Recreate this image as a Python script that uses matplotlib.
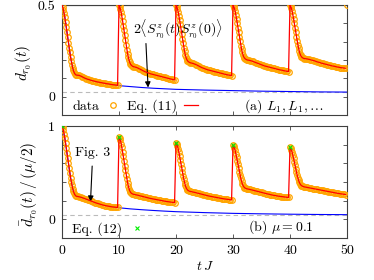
import numpy as np
import matplotlib
matplotlib.use("Agg")
import matplotlib.pyplot as plt
from matplotlib.lines import Line2D

plt.rcParams['font.family'] = 'serif'
plt.rcParams['font.serif'] = ['cmr10']
plt.rcParams['mathtext.fontset'] = 'cm'
plt.rcParams['axes.formatter.use_mathtext'] = True

# ---------------- data ----------------
period_starts = [0, 10, 20, 30, 40]
offsets_fast = [0.0, 0.125, 0.25, 0.375, 0.5, 0.625, 0.75, 0.875, 1.0, 1.125, 1.25, 1.375, 1.5,
                1.625, 1.75, 1.875, 2.0, 2.125, 2.25, 2.375, 2.5]
offsets_slow = [2.75, 3.0, 3.25, 3.5, 3.75, 4.0, 4.25, 4.5, 4.75, 5.0, 5.25, 5.5, 5.75, 6.0, 6.25,
                6.5, 6.75, 7.0, 7.25, 7.5, 7.75, 8.0, 8.25, 8.5, 8.75, 9.0, 9.25, 9.5, 9.75]

# panel (a): d_{r0}(t), one list per driving period
d1 = [0.500, 0.490, 0.475, 0.455, 0.432, 0.407, 0.380, 0.352, 0.323, 0.295, 0.268, 0.242, 0.217,
      0.194, 0.174, 0.157, 0.143, 0.132, 0.125, 0.120, 0.118,
      0.117, 0.116, 0.113, 0.109, 0.105, 0.101, 0.098, 0.095, 0.093, 0.090, 0.088, 0.086, 0.084, 0.082,
      0.080, 0.079, 0.077, 0.076, 0.074, 0.073, 0.071, 0.070, 0.069, 0.067, 0.066, 0.065, 0.064, 0.063, 0.062]
d2 = [0.500, 0.492, 0.478, 0.460, 0.438, 0.414, 0.388, 0.361, 0.334, 0.307, 0.281, 0.257, 0.235,
      0.216, 0.200, 0.188, 0.179, 0.173, 0.169, 0.166, 0.164,
      0.162, 0.160, 0.157, 0.153, 0.149, 0.145, 0.141, 0.137, 0.134, 0.131, 0.128, 0.125, 0.123, 0.121,
      0.119, 0.117, 0.115, 0.113, 0.111, 0.109, 0.107, 0.105, 0.103, 0.101, 0.099, 0.097, 0.095, 0.093, 0.092]
d3 = [0.500, 0.493, 0.480, 0.463, 0.442, 0.419, 0.394, 0.368, 0.342, 0.316, 0.291, 0.268, 0.247,
      0.229, 0.215, 0.204, 0.197, 0.192, 0.189, 0.187, 0.185,
      0.183, 0.181, 0.178, 0.175, 0.171, 0.167, 0.163, 0.159, 0.156, 0.153, 0.150, 0.147, 0.145, 0.143,
      0.141, 0.139, 0.137, 0.135, 0.133, 0.131, 0.129, 0.127, 0.125, 0.123, 0.121, 0.119, 0.118, 0.116, 0.115]
d4 = [0.500, 0.494, 0.482, 0.466, 0.446, 0.424, 0.400, 0.375, 0.350, 0.325, 0.301, 0.279, 0.259,
      0.242, 0.228, 0.218, 0.211, 0.207, 0.204, 0.202, 0.200,
      0.199, 0.197, 0.195, 0.192, 0.189, 0.186, 0.183, 0.180, 0.177, 0.174, 0.171, 0.168, 0.166, 0.164,
      0.162, 0.160, 0.158, 0.156, 0.154, 0.152, 0.150, 0.148, 0.146, 0.145, 0.143, 0.141, 0.140, 0.138, 0.137]
d5 = [0.500, 0.494, 0.482, 0.466, 0.447, 0.425, 0.401, 0.377, 0.352, 0.328, 0.305, 0.284, 0.265,
      0.248, 0.235, 0.225, 0.218, 0.214, 0.211, 0.209, 0.208,
      0.207, 0.206, 0.204, 0.202, 0.200, 0.198, 0.196, 0.193, 0.190, 0.188, 0.186, 0.183, 0.181, 0.179,
      0.177, 0.175, 0.173, 0.171, 0.169, 0.167, 0.166, 0.164, 0.162, 0.161, 0.159, 0.158, 0.157, 0.156, 0.155]
d_final_t = 50
d_final_val = 0.5

# panel (b): dbar_{r0}(t)/(mu/2)
b1 = [1.000, 0.985, 0.955, 0.915, 0.868, 0.818, 0.765, 0.710, 0.655, 0.600, 0.547, 0.495, 0.447,
      0.403, 0.364, 0.330, 0.302, 0.280, 0.264, 0.254, 0.248,
      0.245, 0.242, 0.238, 0.233, 0.228, 0.222, 0.216, 0.210, 0.204, 0.198, 0.192, 0.186, 0.180, 0.175,
      0.170, 0.165, 0.160, 0.156, 0.152, 0.148, 0.145, 0.142, 0.139, 0.136, 0.134, 0.132, 0.130, 0.128, 0.127]
b2 = [0.885, 0.873, 0.848, 0.812, 0.770, 0.724, 0.676, 0.626, 0.576, 0.527, 0.479, 0.434, 0.394,
      0.359, 0.330, 0.308, 0.292, 0.282, 0.276, 0.272, 0.269,
      0.266, 0.263, 0.259, 0.255, 0.251, 0.247, 0.243, 0.239, 0.235, 0.231, 0.227, 0.224, 0.221, 0.218,
      0.215, 0.212, 0.209, 0.206, 0.203, 0.200, 0.197, 0.194, 0.192, 0.190, 0.187, 0.185, 0.183, 0.181, 0.179]
b3 = [0.820, 0.810, 0.788, 0.757, 0.720, 0.680, 0.638, 0.594, 0.550, 0.507, 0.466, 0.428, 0.394,
      0.365, 0.343, 0.327, 0.316, 0.309, 0.304, 0.301, 0.299,
      0.296, 0.293, 0.289, 0.285, 0.281, 0.277, 0.273, 0.269, 0.265, 0.261, 0.257, 0.253, 0.250, 0.247,
      0.244, 0.241, 0.238, 0.235, 0.232, 0.229, 0.226, 0.223, 0.221, 0.219, 0.216, 0.214, 0.212, 0.210, 0.208]
b4 = [0.795, 0.786, 0.766, 0.738, 0.704, 0.667, 0.628, 0.588, 0.548, 0.509, 0.472, 0.438, 0.408,
      0.383, 0.364, 0.350, 0.341, 0.335, 0.331, 0.328, 0.326,
      0.323, 0.320, 0.316, 0.312, 0.308, 0.304, 0.300, 0.296, 0.292, 0.288, 0.284, 0.280, 0.276, 0.273,
      0.270, 0.266, 0.262, 0.259, 0.256, 0.253, 0.250, 0.248, 0.246, 0.244, 0.242, 0.240, 0.238, 0.236, 0.234]
b5 = [0.770, 0.762, 0.744, 0.718, 0.687, 0.653, 0.617, 0.580, 0.543, 0.508, 0.475, 0.445, 0.419,
      0.398, 0.382, 0.370, 0.362, 0.357, 0.353, 0.350, 0.348,
      0.345, 0.342, 0.339, 0.336, 0.333, 0.330, 0.327, 0.324, 0.321, 0.318, 0.315, 0.312, 0.309, 0.306,
      0.303, 0.300, 0.297, 0.294, 0.291, 0.288, 0.285, 0.282, 0.279, 0.277, 0.275, 0.272, 0.270, 0.268, 0.266]

# Eq. (12) crosses
eq12_t = [0, 10, 20, 30, 40]
eq12_val = [1.0, 0.885, 0.82, 0.795, 0.77]

# correlation curves (blue)
corr_t = [0, 0.5, 1.0, 1.5, 2.0, 2.5, 3.0, 4.0, 5.0, 6.0, 7.0, 8.0, 9.0, 10, 12, 14, 16, 18, 20,
          25, 30, 35, 40, 45, 50]
corr_a = [0.500, 0.432, 0.323, 0.217, 0.143, 0.118, 0.116, 0.101, 0.090, 0.082, 0.076, 0.070, 0.065,
          0.060, 0.055, 0.050, 0.046, 0.043, 0.040, 0.036, 0.033, 0.030, 0.028, 0.026, 0.025]
corr_b = [1.000, 0.868, 0.655, 0.447, 0.302, 0.248, 0.242, 0.222, 0.198, 0.175, 0.160, 0.145, 0.134,
          0.124, 0.112, 0.103, 0.095, 0.088, 0.082, 0.072, 0.064, 0.059, 0.055, 0.052, 0.050]
asym_a = 0.027
asym_b = 0.045

# ---------------- assemble ----------------
toff = np.array(offsets_fast + offsets_slow)
t_all = np.concatenate([s + toff for s in period_starts])
d_all = np.concatenate([d1, d2, d3, d4, d5])
b_all = np.concatenate([b1, b2, b3, b4, b5])

orange = '#FFA500'
red = '#FF0000'
blue = '#0000FF'
green = '#00EE00'
spine_col = '#404040'
fs = 10
fs_lab = 11

fig = plt.figure(figsize=(3.74, 2.80), dpi=100)
W, H = 374.0, 280.0
ax1 = fig.add_axes([62 / W, 1 - 115 / H, 285 / W, 110 / H])
ax2 = fig.add_axes([62 / W, 1 - 238 / H, 285 / W, 112 / H])

mk = dict(ls='none', marker='o', ms=4, mfc='none', mec=orange, mew=0.9)
xk = dict(ls='none', marker='x', ms=3.5, color=green, mew=0.8)

# panel (a)
ax1.axhline(asym_a, color='#BBBBBB', lw=0.8, ls=(0, (4, 3)), zorder=1)
ax1.axhline(0.5, color='#999999', lw=1.6, zorder=1)
ax1.plot(corr_t, corr_a, color=blue, lw=0.8, zorder=2)
ax1.plot(np.append(t_all, d_final_t), np.append(d_all, d_final_val), zorder=3, **mk)
ax1.plot(t_all, d_all, color=red, lw=0.9, zorder=4)
ax1.set_xlim(0, 50)
ax1.set_ylim(-0.1, 0.5)
ax1.set_yticks([0, 0.1, 0.2, 0.3, 0.4, 0.5])
ax1.set_yticklabels(['0', '', '', '', '', '0.5'])
ax1.set_xticks([0, 10, 20, 30, 40, 50])
ax1.set_xticklabels([])
ax1.set_ylabel(r'$d_{r_0}(t)$', fontsize=fs_lab)
ax1.yaxis.set_label_coords(-0.098, 0.47)

h_data = Line2D([], [], **mk)
h_eq11 = Line2D([], [], color=red, lw=0.9)
ax1.legend([h_data, h_eq11], ['data', 'Eq. (11)'], ncol=2, markerfirst=False, loc='lower left',
           bbox_to_anchor=(0.028, 0.0),
           frameon=False, fontsize=fs, handlelength=1.0, handletextpad=0.5, columnspacing=0.5,
           borderaxespad=0.05, borderpad=0.1)
ax1.text(0.64, 0.045, r'(a) $L_1, L_1, \ldots$', transform=ax1.transAxes, ha='left', va='baseline',
         fontsize=fs)
ax1.annotate(r'$2\langle S^z_{r_0}(t)S^z_{r_0}(0)\rangle$', xy=(15.1, 0.05), xytext=(12.5, 0.37),
             fontsize=fs, va='center', ha='left',
             arrowprops=dict(arrowstyle='-|>', color='black', lw=0.8, mutation_scale=8,
                             shrinkA=0, shrinkB=0, relpos=(0.14, 0.0)))

# panel (b)
ax2.axhline(asym_b, color='#BBBBBB', lw=0.8, ls=(0, (4, 3)), zorder=1)
ax2.plot(corr_t, corr_b, color=blue, lw=0.8, zorder=2)
ax2.plot(t_all, b_all, zorder=3, **mk)
ax2.plot(t_all, b_all, color=red, lw=0.9, zorder=4)
ax2.plot(eq12_t, eq12_val, zorder=5, **xk)
ax2.set_xlim(0, 50)
ax2.set_ylim(-0.2, 1.0)
ax2.set_yticks([0, 0.2, 0.4, 0.6, 0.8, 1.0])
ax2.set_yticklabels(['0', '', '', '', '', '1'])
ax2.set_xticks([0, 10, 20, 30, 40, 50])
ax2.set_xticklabels(['0', '10', '20', '30', '40', '50'])
ax2.set_xlabel(r'$t\,J$', fontsize=fs, labelpad=2)
ax2.set_ylabel(r'$\bar{d}_{r_0}(t)\,/\,(\mu/2)$', fontsize=fs_lab)
ax2.yaxis.set_label_coords(-0.077, 0.48)

h_eq12 = Line2D([], [], **xk)
ax2.legend([h_eq12], ['Eq. (12)'], markerfirst=False, loc='lower left', bbox_to_anchor=(0.028, 0.0),
           frameon=False, fontsize=fs,
           handlelength=1.0, handletextpad=0.6, borderaxespad=0.05, borderpad=0.1)
ax2.text(0.653, 0.0625, r'(b) $\mu = 0.1$', transform=ax2.transAxes, ha='left', va='baseline',
         fontsize=fs)
ax2.annotate('Fig. 3', xy=(5.0, 0.19), xytext=(5.4, 0.71), fontsize=fs, ha='center', va='center',
             arrowprops=dict(arrowstyle='-|>', color='black', lw=0.8, mutation_scale=8,
                             shrinkA=3, shrinkB=0))

for ax in (ax1, ax2):
    ax.tick_params(direction='in', top=True, right=True, length=3, width=0.6, labelsize=fs,
                   colors=spine_col, labelcolor='black', pad=5)
    for s in ax.spines.values():
        s.set_color(spine_col)
        s.set_linewidth(0.8)

fig.savefig('out.png', dpi=100)
